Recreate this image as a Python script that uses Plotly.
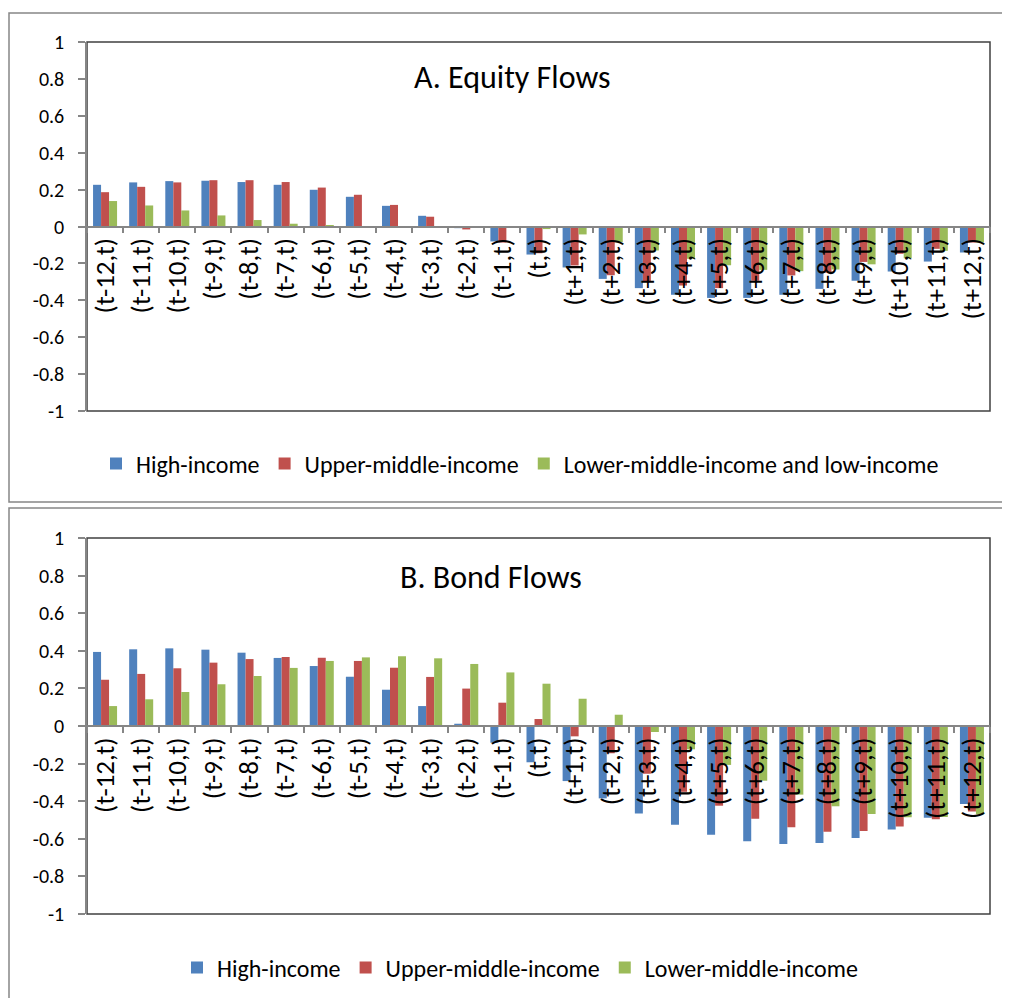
import plotly.graph_objects as go

# ---------------- data ----------------
categories = ["(t-12,t)", "(t-11,t)", "(t-10,t)", "(t-9,t)", "(t-8,t)", "(t-7,t)",
              "(t-6,t)", "(t-5,t)", "(t-4,t)", "(t-3,t)", "(t-2,t)", "(t-1,t)", "(t,t)",
              "(t+1,t)", "(t+2,t)", "(t+3,t)", "(t+4,t)", "(t+5,t)", "(t+6,t)",
              "(t+7,t)", "(t+8,t)", "(t+9,t)", "(t+10,t)", "(t+11,t)", "(t+12,t)"]

eq_high = [0.226, 0.239, 0.246, 0.248, 0.241, 0.226, 0.199, 0.161, 0.112, 0.058, -0.009,
           -0.081, -0.152, -0.222, -0.284, -0.334, -0.370, -0.387, -0.387, -0.370,
           -0.338, -0.294, -0.244, -0.190, -0.141]
eq_upper = [0.186, 0.215, 0.239, 0.251, 0.251, 0.241, 0.211, 0.172, 0.117, 0.053, -0.016,
            -0.087, -0.145, -0.211, -0.264, -0.300, -0.320, -0.334, -0.294, -0.265,
            -0.250, -0.192, -0.148, -0.121, -0.087]
eq_lower = [0.138, 0.114, 0.087, 0.060, 0.035, 0.015, 0.003, 0.002, 0.001, 0.000, 0.000,
            -0.004, -0.014, -0.043, -0.085, -0.130, -0.175, -0.210, -0.235, -0.242,
            -0.233, -0.205, -0.172, -0.132, -0.087]

bd_high = [0.394, 0.408, 0.413, 0.406, 0.390, 0.362, 0.319, 0.262, 0.193, 0.106, 0.012,
           -0.089, -0.193, -0.293, -0.385, -0.466, -0.525, -0.578, -0.613, -0.628,
           -0.622, -0.596, -0.550, -0.488, -0.415]
bd_upper = [0.246, 0.277, 0.307, 0.337, 0.356, 0.367, 0.363, 0.346, 0.310, 0.261, 0.199,
            0.124, 0.037, -0.055, -0.145, -0.254, -0.350, -0.424, -0.493, -0.539,
            -0.562, -0.559, -0.535, -0.496, -0.455]
bd_lower = [0.106, 0.142, 0.181, 0.222, 0.266, 0.309, 0.346, 0.365, 0.371, 0.360, 0.330,
            0.285, 0.225, 0.145, 0.060, -0.032, -0.124, -0.207, -0.291, -0.365,
            -0.427, -0.468, -0.486, -0.484, -0.470]

names_a = ["High-income", "Upper-middle-income", "Lower-middle-income and low-income"]
names_b = ["High-income", "Upper-middle-income", "Lower-middle-income"]
title_a = "A. Equity Flows"
title_b = "B. Bond Flows"

y_tickvals = [1, 0.8, 0.6, 0.4, 0.2, 0, -0.2, -0.4, -0.6, -0.8, -1]
y_ticktext = ["1", "0.8", "0.6", "0.4", "0.2", "0", "-0.2", "-0.4", "-0.6", "-0.8", "-1"]

# ---------------- styling ----------------
colors = ["#4F81BD", "#C0504D", "#9BBB59"]
FONT = "Carlito, Calibri, Lato, sans-serif"
OFF = 8                      # page body margin in the browser
W, H = 1002, 990             # figure size so that it fits the 1010x998 window
L, R, T, B = 79, 20, 34, 84  # plot region in figure pixels


def px_x(page_px):
    return (page_px - OFF - L) / (W - L - R)


def px_y(page_py):
    return (H - B - (page_py - OFF)) / (H - T - B)


dom_a = [px_y(411), px_y(42)]
dom_b = [px_y(914), px_y(538)]

fig = go.Figure()
for vals, name, col in zip([eq_high, eq_upper, eq_lower], names_a, colors):
    fig.add_trace(go.Bar(x=categories, y=vals, name=name, marker_color=col,
                         marker_line_width=0, xaxis="x", yaxis="y", legend="legend"))
for vals, name, col in zip([bd_high, bd_upper, bd_lower], names_b, colors):
    fig.add_trace(go.Bar(x=categories, y=vals, name=name, marker_color=col,
                         marker_line_width=0, xaxis="x2", yaxis="y2", legend="legend2"))

grey = "#868686"
xcommon = dict(type="category", anchor="free", showline=True, linecolor=grey, linewidth=1.5,
               ticks="outside", tickson="boundaries", ticklen=6, tickcolor=grey, tickwidth=1.5,
               tickangle=-90, tickfont=dict(family=FONT, size=27, color="black"),
               showgrid=False, zeroline=False, range=[-0.5, 24.5], domain=[0, 1],
               automargin=False)
ycommon = dict(range=[-1, 1], tickmode="array", tickvals=y_tickvals, ticktext=y_ticktext,
               ticks="outside", ticklen=7, tickcolor=grey, tickwidth=1.5, showline=True,
               linecolor=grey, linewidth=1.5, showgrid=False, zeroline=False,
               tickfont=dict(family=FONT, size=20, color="black"), ticklabelstandoff=10,
               automargin=False)

fig.update_layout(
    width=W, height=H,
    margin=dict(l=L, r=R, t=T, b=B, autoexpand=False),
    paper_bgcolor="white", plot_bgcolor="white",
    barmode="group", bargap=0.335, bargroupgap=0,
    font=dict(family=FONT, color="black"),
    xaxis=dict(xcommon, position=(dom_a[0] + dom_a[1]) / 2),
    yaxis=dict(ycommon, domain=dom_a, anchor="x"),
    xaxis2=dict(xcommon, position=(dom_b[0] + dom_b[1]) / 2),
    yaxis2=dict(ycommon, domain=dom_b, anchor="x2"),
    legend=dict(orientation="h", x=px_x(520), xanchor="center", y=px_y(464), yanchor="middle",
                font=dict(family=FONT, size=24, color="black"), bgcolor="rgba(0,0,0,0)"),
    legend2=dict(orientation="h", x=px_x(520), xanchor="center", y=px_y(968), yanchor="middle",
                 font=dict(family=FONT, size=24, color="black"), bgcolor="rgba(0,0,0,0)"),
    annotations=[
        dict(text=title_a, xref="paper", yref="paper", x=px_x(512), y=px_y(77),
             xanchor="center", yanchor="middle", showarrow=False,
             font=dict(family=FONT, size=32, color="black")),
        dict(text=title_b, xref="paper", yref="paper", x=px_x(491), y=px_y(577),
             xanchor="center", yanchor="middle", showarrow=False,
             font=dict(family=FONT, size=32, color="black")),
    ],
    shapes=[
        dict(type="rect", xref="x domain", yref="y domain", x0=0, x1=1, y0=0, y1=1,
             line=dict(color="#404040", width=1.5), layer="below"),
        dict(type="rect", xref="x2 domain", yref="y2 domain", x0=0, x1=1, y0=0, y1=1,
             line=dict(color="#404040", width=1.5), layer="below"),
        dict(type="rect", xref="paper", yref="paper", x0=px_x(9), x1=px_x(1016),
             y0=px_y(502), y1=px_y(13), line=dict(color=grey, width=1.5), layer="below"),
        dict(type="rect", xref="paper", yref="paper", x0=px_x(9), x1=px_x(1016),
             y0=px_y(1006), y1=px_y(508), line=dict(color=grey, width=1.5), layer="below"),
    ],
)

fig.write_html("out.html")
